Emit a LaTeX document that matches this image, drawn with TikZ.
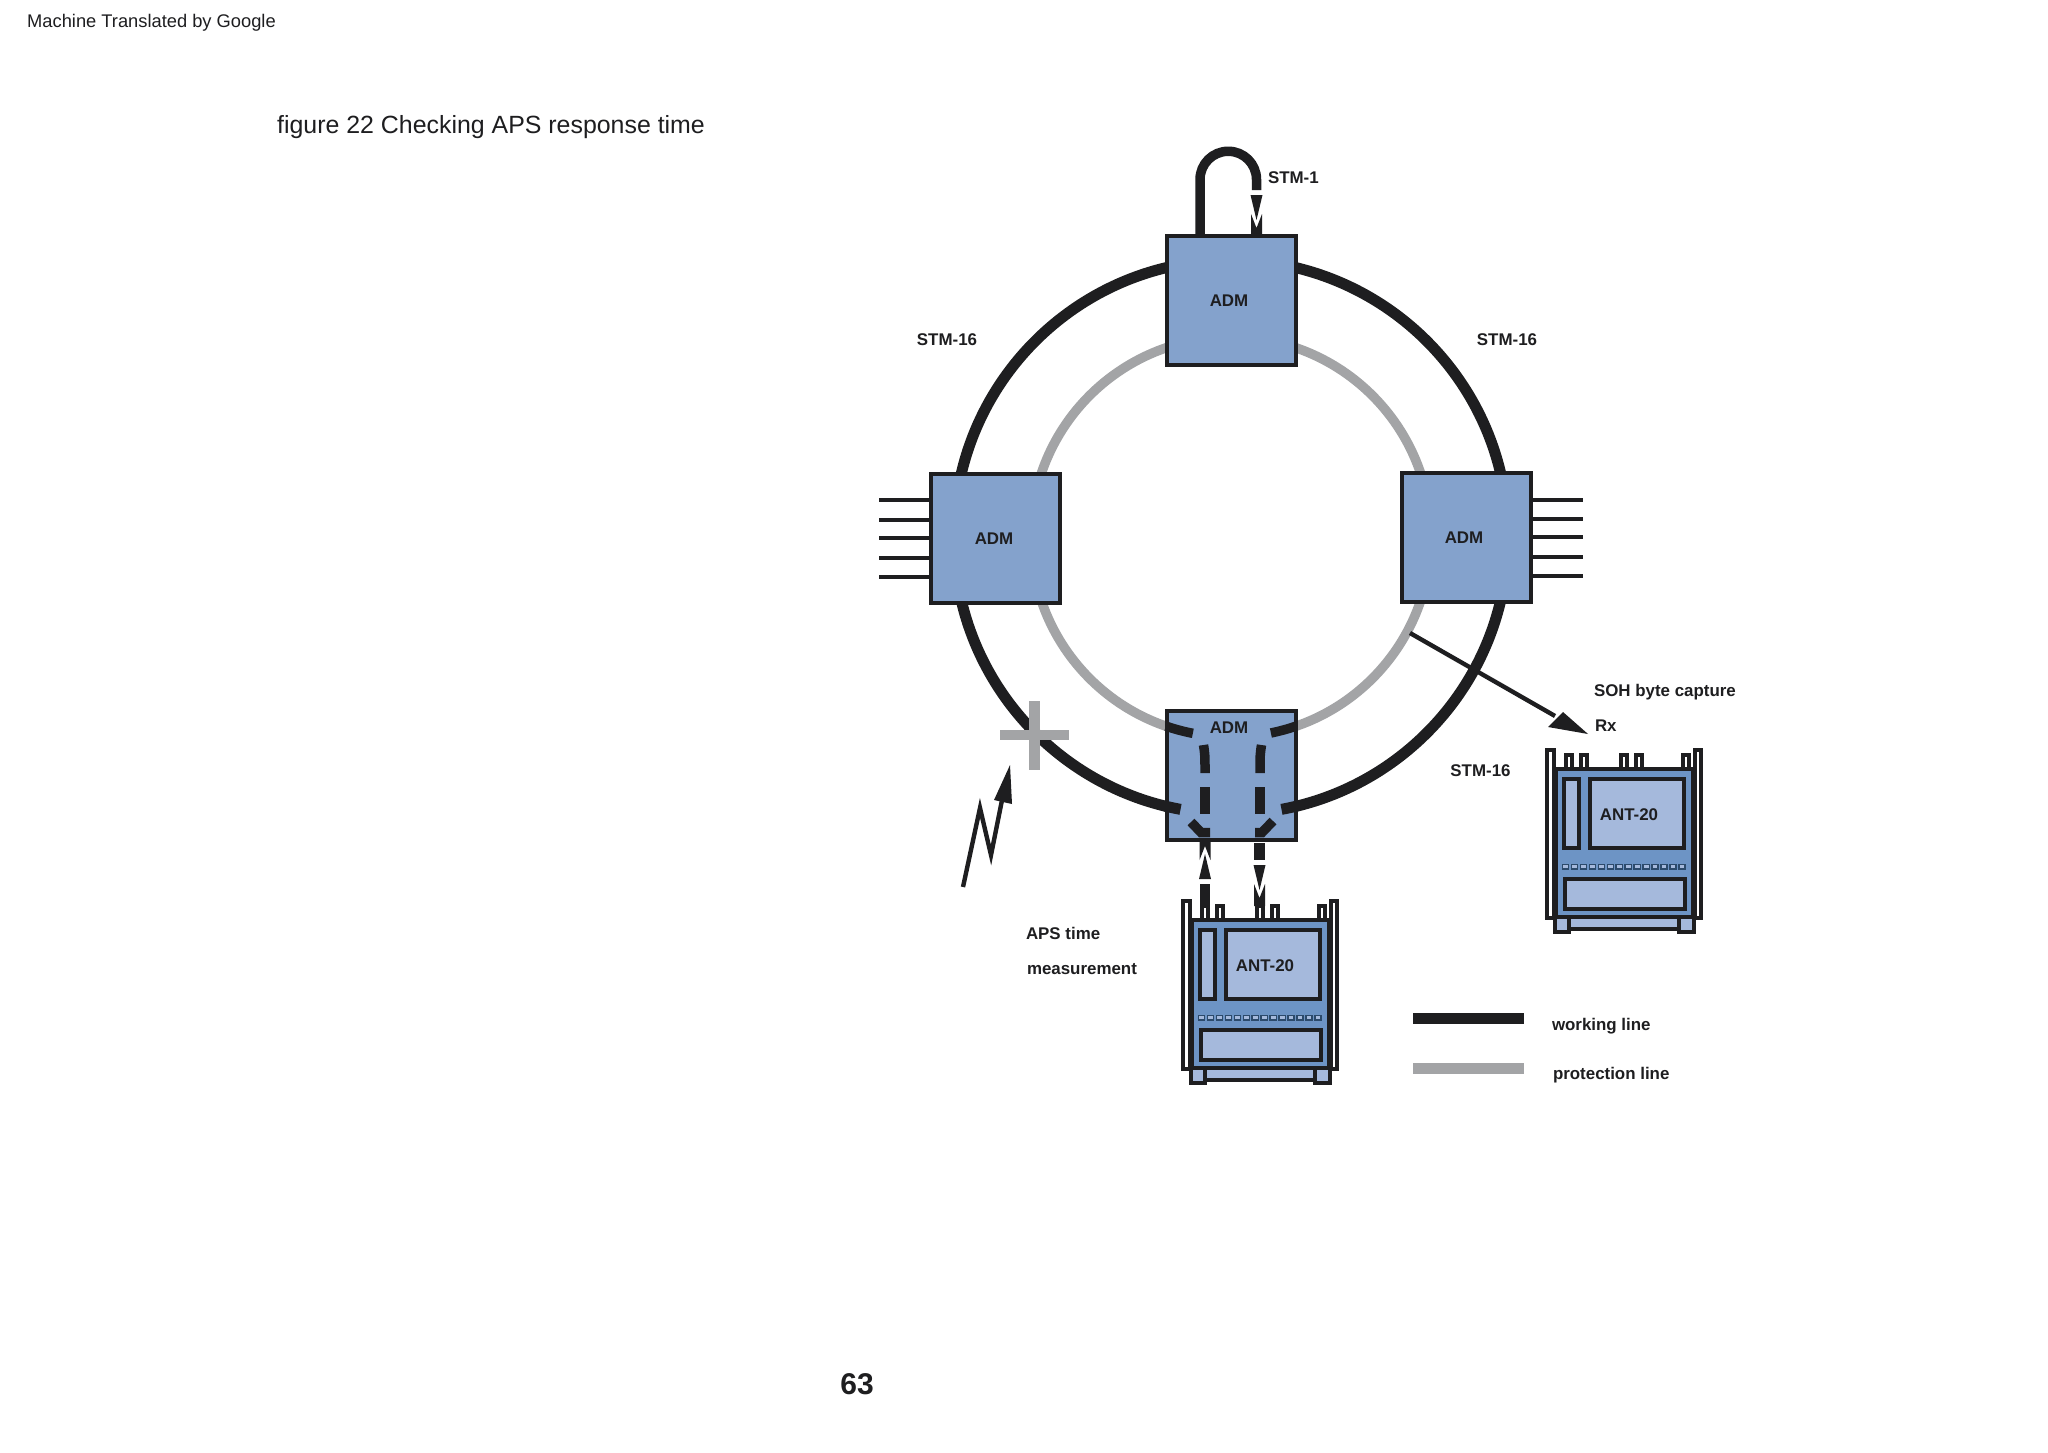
\documentclass[tikz,border=0pt]{standalone}
\usepackage{fontspec}
\setmainfont{Liberation Sans}
\definecolor{ink}{HTML}{1E1E20}
\definecolor{grayl}{HTML}{A3A4A6}
\definecolor{admblue}{HTML}{84A2CC}
\definecolor{bodyblue}{HTML}{6D94C5}
\definecolor{panelblue}{HTML}{A5B9DC}
\definecolor{dotblue}{HTML}{2C4A6B}
\tikzset{
  adm/.style={draw=ink,fill=admblue,line width=4pt,minimum size=129pt,inner sep=0pt,outer sep=0pt},
  lab/.style={font=\fontsize{16.9}{20}\selectfont\bfseries,text=ink,inner sep=0pt,outer sep=0pt},
  llab/.style={lab,anchor=west},
  work/.style={draw=ink,line width=11pt},
  prot/.style={draw=grayl,line width=9.5pt},
  dashw/.style={draw=ink,line width=9.5pt,line join=miter},
  stub/.style={draw=ink,line width=3.4pt},
  devline/.style={draw=ink,line width=4pt,line join=miter},
  downhead/.pic={
    \fill[ink] (-6,0) -- (6,0) -- (0,25) -- cycle;
    \fill[ink] (-5.5,19) -- (0,33) -- (5.5,19) -- (5.5,41) -- (-5.5,41) -- cycle;
  },
  uphead/.pic={
    \fill[ink] (-6,0) -- (6,0) -- (0,-25) -- cycle;
    \fill[ink] (-5.5,-19) -- (0,-33) -- (5.5,-19) -- (5.5,-39) -- (-5.5,-39) -- cycle;
  },
  antdev/.pic={
    \filldraw[devline,fill=white] (1,1.75) rectangle (7.5,170);
    \filldraw[devline,fill=white] (148.75,1.75) rectangle (155.25,170);
    \foreach \tx in {18,33,73,88,135} \filldraw[devline,fill=white] ({\tx+1.75},6.75) rectangle ++(6.2,14);
    \filldraw[devline,fill=bodyblue] (10,20.75) rectangle (147,168.5);
    \filldraw[devline,fill=panelblue] (17.75,30.75) rectangle (33.25,100.25);
    \filldraw[devline,fill=panelblue] (43.75,30.75) rectangle (138.25,100.25);
    \foreach \i in {0,...,13} \filldraw[draw=dotblue,fill=panelblue,line width=1.5pt] ({16.5+\i*8.95},116.5) rectangle ++(6.2,4.6);
    \filldraw[devline,fill=panelblue] (18.75,130.75) rectangle (139.25,161.25);
    \filldraw[devline,fill=panelblue] (17,169) rectangle (140,181);
    \filldraw[devline,fill=panelblue] (8.75,169) rectangle (23.25,184);
    \filldraw[devline,fill=panelblue] (132.75,169) rectangle (148.25,184);
    \node[lab] (-label) at (83,66.5) {ANT-20};
  }
}
\begin{document}
\begin{tikzpicture}[x=1pt,y=-1pt]
\useasboundingbox (0,0) rectangle (2048,1452);
\fill[white] (0,0) rectangle (2048,1452);
\coordinate (ring) at (1231,537);
% ring
\draw[work] (ring) circle[radius=277pt];
\draw[prot] (ring) circle[radius=200pt];
% STM-1 loop
\coordinate (loopL) at (1200,237);
\coordinate (loopR) at (1256.5,190);
\draw[draw=ink,line width=9.5pt] (loopL) -- (1200,179.5) arc[start angle=180,end angle=0,radius=28.25pt] -- (loopR);
\pic at (1256.5,195) {downhead};
% tributary stubs
\foreach \y in {500,520,538,558,577} \draw[stub] (879,\y) -- (930,\y);
\foreach \y in {500,519,537,557,576} \draw[stub] (1531,\y) -- (1583,\y);
% ADM boxes
\node[adm] (admT) at (1231.5,300) {};
\node[adm] (admL) at (995.5,538) {};
\node[adm] (admR) at (1466,537) {};
\node[adm] (admB) at (1231,775.3) {};
\node[lab] at (1229,300.5) {ADM};
\node[lab] at (994,538.5) {ADM};
\node[lab] at (1464,537.5) {ADM};
\node[lab] at (1229,727.5) {ADM};
% route through the bottom ADM
\draw[work] (ring) ++(256.2:277pt) arc[start angle=256.2,end angle=259.5,radius=277pt];
\draw[work] (ring) ++(283.8:277pt) arc[start angle=283.8,end angle=280.5,radius=277pt];
\draw[dashw] (ring) ++(251:200pt) arc[start angle=251,end angle=259,radius=200pt];
\draw[dashw] (ring) ++(289:200pt) arc[start angle=289,end angle=281.5,radius=200pt];
\draw[dashw] (1203.5,745) .. controls (1205,755) .. (1205,773);
\draw[dashw] (1205,787) -- (1205,814);
\draw[dashw] (1191,822) -- (1201,832.5) -- (1210,832.5);
\draw[dashw] (1261.5,745) .. controls (1260,755) .. (1260,773);
\draw[dashw] (1260,787) -- (1260,814);
\draw[dashw] (1273,821) -- (1262,832.5) -- (1255,832.5);
% test connections
\pic at (1205,879) {uphead};
\draw[draw=ink,line width=10.5pt] (1205,884) -- (1205,906);
\draw[draw=ink,line width=10.5pt] (1259.5,843) -- (1259.5,860);
\pic at (1259.5,865) {downhead};
% instruments
\pic (antA) at (1182,899) {antdev};
\pic (antB) at (1546,748) {antdev};
% capture arrow
\coordinate (capS) at (1410,633);
\coordinate (capE) at (1555,716);
\draw[draw=ink,line width=4.4pt] (capS) -- (capE);
\fill[ink] (1588,734) -- (1548,727) -- (1563,712) -- cycle;
% fault
\fill[grayl] (1029,701) rectangle (1040,770);
\fill[grayl] (1000,730) rectangle (1069,740);
\draw[draw=ink,line width=4.4pt,line join=miter] (963,887) -- (980,808) -- (991,855) -- (1002,800);
\fill[ink] (1010,765) -- (994,800) -- (1012,804) -- cycle;
% legend
\coordinate (legA) at (1413,1018);
\coordinate (legB) at (1524,1018);
\coordinate (legC) at (1413,1068);
\coordinate (legD) at (1524,1068);
\draw[draw=ink,line width=11pt] (legA) -- (legB);
\draw[draw=grayl,line width=11pt] (legC) -- (legD);
% labels
\node[llab] at (1268,178) {STM-1};
\node[lab] at (947,340) {STM-16};
\node[lab] at (1507,340) {STM-16};
\node[lab] at (1480.5,771) {STM-16};
\node[llab] at (1594,692) {SOH byte capture};
\node[llab] at (1595,726) {Rx};
\node[llab] at (1026,933) {APS time};
\node[llab] at (1027,969) {measurement};
\node[llab] at (1552,1026) {working line};
\node[llab] at (1553,1075) {protection line};
\node[anchor=west,inner sep=0pt,text=ink,font=\fontsize{18.3}{22}\selectfont] at (27,23) {Machine Translated by Google};
\node[anchor=west,inner sep=0pt,text=ink,font=\fontsize{24.9}{30}\selectfont] at (277,127) {figure 22 Checking APS response time};
\node[inner sep=0pt,text=ink,font=\fontsize{30}{34}\selectfont\bfseries] at (857,1384) {63};
\end{tikzpicture}
\end{document}
